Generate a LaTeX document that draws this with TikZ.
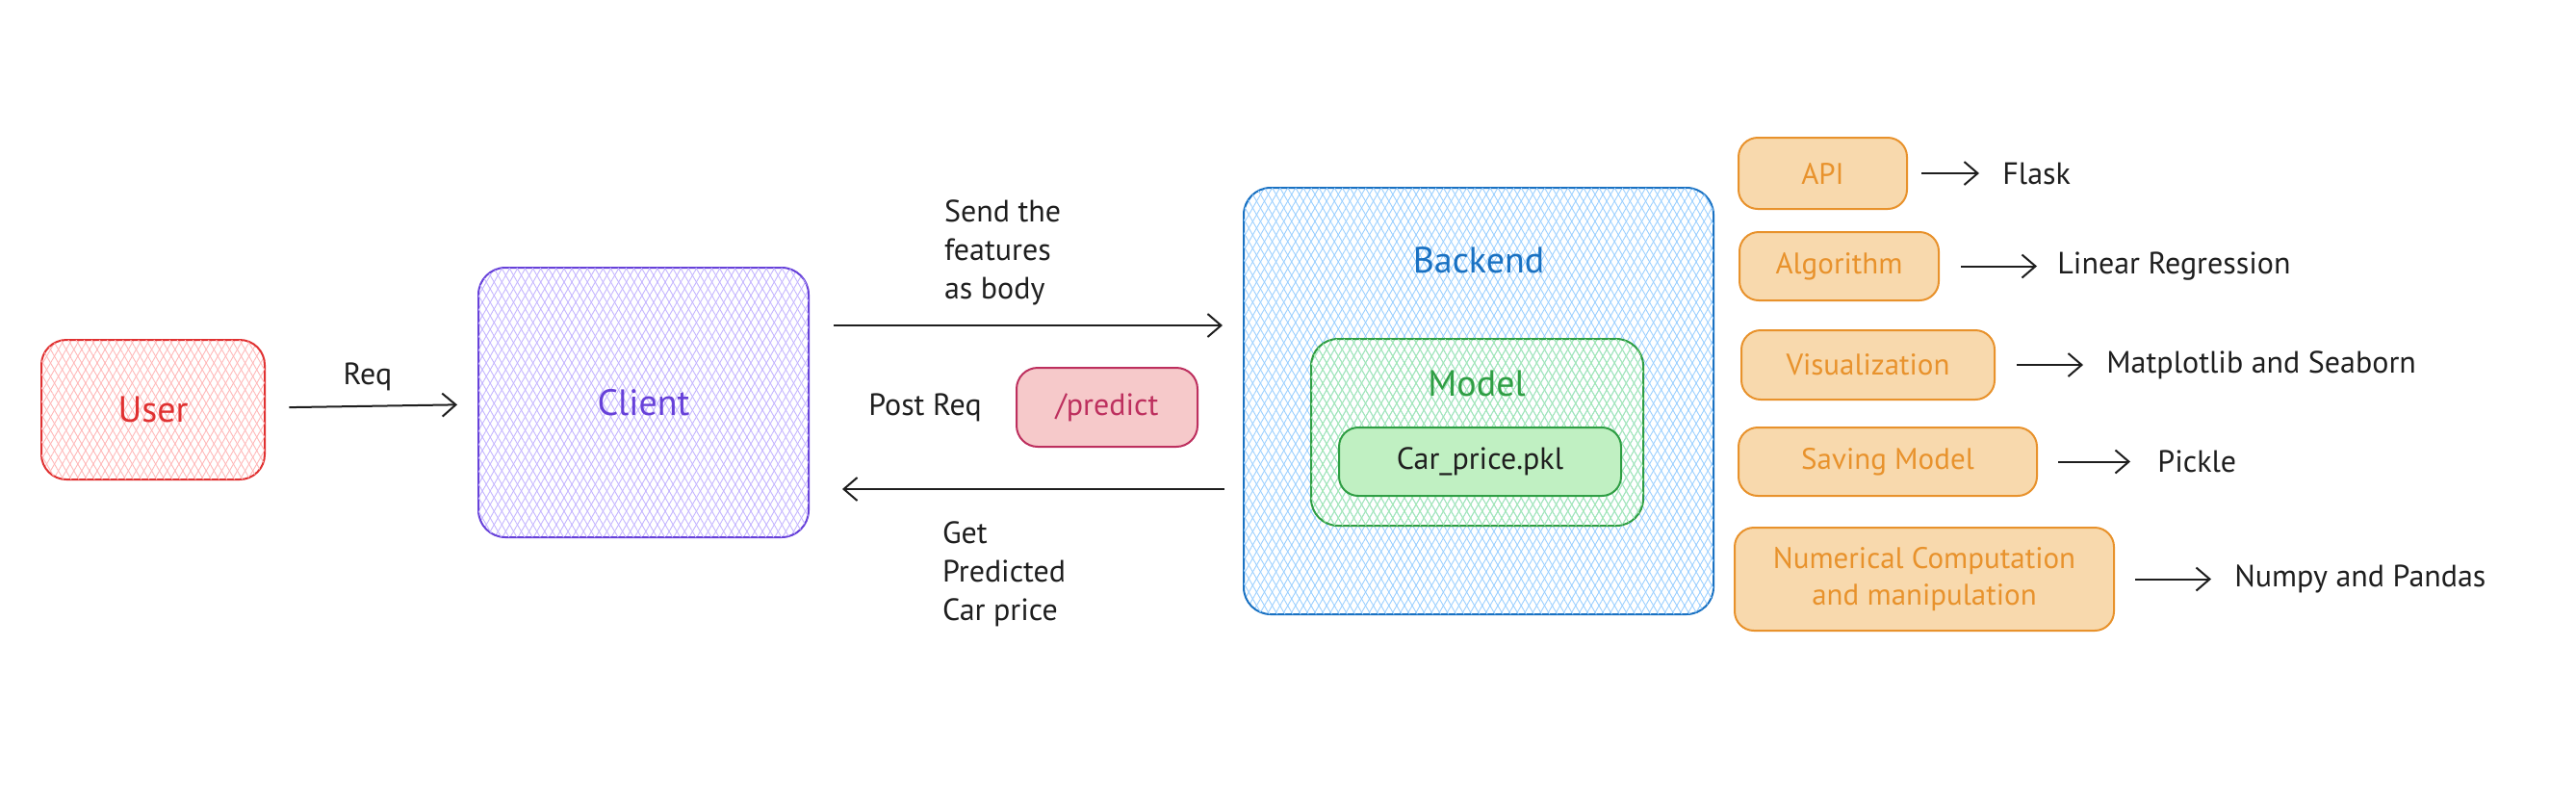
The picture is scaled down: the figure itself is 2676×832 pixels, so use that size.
\documentclass[tikz,border=0pt]{standalone}
\usepackage{fontspec}
\setmainfont{PT Sans}
\usetikzlibrary{arrows.meta,patterns.meta}
\definecolor{ink}{HTML}{1E1E1E}
\definecolor{userred}{HTML}{E03131}
\definecolor{userfill}{HTML}{FFB8B8}
\definecolor{clientline}{HTML}{6741D9}
\definecolor{clientfill}{HTML}{C4B5FF}
\definecolor{backline}{HTML}{1971C2}
\definecolor{backfill}{HTML}{9ACFFF}
\definecolor{modelline}{HTML}{2F9E44}
\definecolor{modelfill}{HTML}{A6EBAF}
\definecolor{pklfill}{HTML}{C0F0C2}
\definecolor{predline}{HTML}{BD2F5E}
\definecolor{predfill}{HTML}{F6C9CA}
\definecolor{toolline}{HTML}{E8922C}
\definecolor{toolfill}{HTML}{F8D9AD}
\begin{document}
\begin{tikzpicture}[x=0.5pt,y=-0.5pt,
	box/.style={draw,line width=1pt,rounded corners=#1,inner sep=0pt},
	box/.default=10pt,
	hatch/.style={pattern={Lines[angle=60,distance=3.5pt,line width=0.45pt]},pattern color=#1,
		postaction={pattern={Lines[angle=-60,distance=3.5pt,line width=0.45pt]},pattern color=#1}},
	title/.style={font=\fontsize{19}{23}\selectfont},
	lbl/.style={font=\fontsize{16}{20}\selectfont,text=ink},
	tool/.style={box,fill=toolfill,draw=toolline,text=toolline,font=\fontsize{15.5}{19}\selectfont,align=center},
	arr/.style={-{Straight Barb[length=7pt,width=12pt]},line width=1pt,draw=ink}]
	\useasboundingbox (0,0) rectangle (2676,832);
	\node[box=13pt,minimum width=116pt,minimum height=72.5pt,hatch=userfill,draw=userred,title,text=userred] at (159,425.5) (user) {User};
	\node[box=14pt,minimum width=171.5pt,minimum height=140pt,hatch=clientfill,draw=clientline,title,text=clientline] at (668.5,418) (client) {Client};
	\node[box=14pt,minimum width=244pt,minimum height=221.5pt,hatch=backfill,draw=backline] at (1536,416.5) (backend) {};
	\node[title,text=backline] at (1536,270) (backtxt) {Backend};
	\node[box=14pt,minimum width=172.5pt,minimum height=97pt,hatch=modelfill,draw=modelline] at (1534.5,449) (model) {};
	\node[title,text=modelline] at (1534,398) (modeltxt) {Model};
	\node[box=10pt,minimum width=146.5pt,minimum height=35.5pt,fill=pklfill,draw=modelline,lbl] at (1537.5,479.5) (pkl) {Car\_price.pkl};
	\node[box=11pt,minimum width=94pt,minimum height=41pt,fill=predfill,draw=predline,lbl,text=predline] at (1150,423) (predict) {/predict};
	\node[lbl] at (382,391) (req) {Req};
	\node[lbl] at (961,423) (post) {Post Req};
	\node[lbl,align=left,anchor=west] at (974,262) (send) {Send the\\features\\as body};
	\node[lbl,align=left,anchor=west] at (972,596) (get) {Get\\Predicted\\Car price};
	\draw[arr,shorten <=12.5pt,shorten >=10.5pt] ([yshift=1pt]user.east) -- ([yshift=-1pt]client.west);
	\draw[arr,shorten <=12.5pt,shorten >=10.5pt] ([yshift=40pt]client.east) -- ([yshift=40pt]client.east -| backend.west);
	\draw[arr,shorten <=9.5pt,shorten >=17pt] ([yshift=-45pt]client.east -| backend.west) -- ([yshift=-45pt]client.east);
	\node[tool,minimum width=87.5pt,minimum height=37pt] at (1893.5,180) (api) {API};
	\node[tool,minimum width=103.5pt,minimum height=35.5pt] at (1910.5,276.5) (algo) {Algorithm};
	\node[tool,minimum width=131.5pt,minimum height=36pt] at (1940.5,379) (vis) {Visualization};
	\node[tool,minimum width=155pt,minimum height=35.5pt] at (1961,479.5) (save) {Saving Model};
	\node[tool,minimum width=197pt,minimum height=53.5pt] at (1999,601.5) (num) {Numerical Computation\\and manipulation};
	\node[lbl,anchor=west,inner sep=0pt] at (2080,180) (flask) {Flask};
	\node[lbl,anchor=west,inner sep=0pt] at (2137,276.5) (linreg) {Linear Regression};
	\node[lbl,anchor=west,inner sep=0pt] at (2188,379) (mpl) {Matplotlib and Seaborn};
	\node[lbl,anchor=west,inner sep=0pt] at (2241,479.5) (pickle) {Pickle};
	\node[lbl,anchor=west,inner sep=0pt] at (2321,601.5) (numpy) {Numpy and Pandas};
	\draw[arr,shorten <=7pt,shorten >=12pt] (api) -- (flask);
	\draw[arr,shorten <=11pt,shorten >=10.5pt] (algo) -- (linreg);
	\draw[arr,shorten <=11pt,shorten >=12pt] (vis) -- (mpl);
	\draw[arr,shorten <=10.5pt,shorten >=14pt] (save) -- (pickle);
	\draw[arr,shorten <=10.5pt,shorten >=12pt] (num) -- (numpy);
\end{tikzpicture}
\end{document}
